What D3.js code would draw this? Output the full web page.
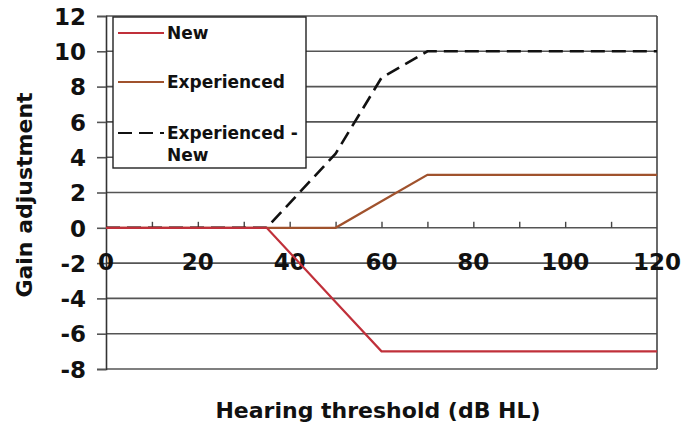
<!DOCTYPE html>
<html><head><meta charset="utf-8">
<script src="https://cdn.jsdelivr.net/npm/d3@7"></script>
<style>body{margin:0;background:#fff}svg{display:block}text{font-family:"DejaVu Sans",Verdana,sans-serif;font-weight:bold;fill:#111}</style>
</head><body><svg id="c" width="684" height="429"></svg>
<script>
const thresholds = [0, 35, 50, 60, 70, 120];
const newVals = [0, 0, -4.2, -7, -7, -7];
const expVals = [0, 0, 0, 1.5, 3, 3];
const diffVals = [0, 0, 4.2, 8.5, 10, 10];
const seriesNames = ["New", "Experienced", "Experienced - New"];
const xTicks = [0, 20, 40, 60, 80, 100, 120];
const xMinorTicks = [10, 20, 30, 40, 50, 60, 70, 80, 90, 100, 110];
const yTicks = [-8, -6, -4, -2, 0, 2, 4, 6, 8, 10, 12];

const svg = d3.select("#c");
const L = 106, R = 657, T = 16, B = 369;
const x = d3.scaleLinear().domain([0, 120]).range([L, R]);
const y = d3.scaleLinear().domain([-8, 12]).range([B, T]);
const fmt = d => String(d); // plain hyphen-minus like the original

// gridlines
svg.append("g").selectAll("line").data(yTicks).join("line")
  .attr("x1", L).attr("x2", R).attr("y1", d => y(d)).attr("y2", d => y(d))
  .attr("stroke", "#555").attr("stroke-width", 1.6);
// right border
svg.append("line").attr("x1", R).attr("x2", R).attr("y1", T).attr("y2", B).attr("stroke", "#444").attr("stroke-width", 1.6);

// y axis
const yAxis = d3.axisLeft(y).tickValues(yTicks).tickSize(9).tickPadding(11).tickFormat(fmt);
const gy = svg.append("g").attr("transform", `translate(${L},0)`).call(yAxis);
gy.select(".domain").attr("stroke", "#333").attr("stroke-width", 1.6);
gy.selectAll(".tick line").attr("stroke", "#555").attr("stroke-width", 1.6);
gy.selectAll(".tick text").style("font-size", "23px").style("fill", "#111").attr("dy", "0.36em");

// x axis on zero line with upward ticks
const xAxis = d3.axisTop(x).tickValues(xMinorTicks).tickSize(6).tickFormat("");
const gx = svg.append("g").attr("transform", `translate(0,${y(0)})`).call(xAxis);
gx.select(".domain").remove();
gx.selectAll(".tick line").attr("stroke", "#444").attr("stroke-width", 1.4);

// x tick labels (positioned like original, overlapping -2 line)
svg.append("g").selectAll("text").data(xTicks).join("text")
  .attr("x", d => x(d)).attr("y", y(0) + 42).attr("text-anchor", "middle")
  .style("font-size", "23px").text(fmt);

// lines
const line = d3.line().x((d, i) => x(thresholds[i])).y(d => y(d));
svg.append("path").datum(expVals).attr("d", line).attr("fill", "none").attr("stroke", "#a0522d").attr("stroke-width", 2.2);
svg.append("path").datum(diffVals).attr("d", line).attr("fill", "none").attr("stroke", "#111").attr("stroke-width", 2.6).attr("stroke-dasharray", "14,7");
svg.append("path").datum(newVals).attr("d", line).attr("fill", "none").attr("stroke", "#c0303a").attr("stroke-width", 2.2);

// legend
const lg = svg.append("g");
lg.append("rect").attr("x", 113).attr("y", 17).attr("width", 193).attr("height", 151)
  .attr("fill", "#fff").attr("stroke", "#222").attr("stroke-width", 1.4);
const legItems = [
  {name: seriesNames[0], color: "#c0303a", dash: null, y: 33},
  {name: seriesNames[1], color: "#a0522d", dash: null, y: 82},
  {name: seriesNames[2], color: "#111", dash: "14,7", y: 133}
];
legItems.forEach(it => {
  lg.append("line").attr("x1", 118).attr("x2", 164).attr("y1", it.y).attr("y2", it.y)
    .attr("stroke", it.color).attr("stroke-width", 2.2).attr("stroke-dasharray", it.dash);
});
lg.append("text").attr("x", 167).attr("y", 33).attr("dy", "0.36em").style("font-size", "17px").text("New");
lg.append("text").attr("x", 167).attr("y", 82).attr("dy", "0.36em").style("font-size", "17px").text("Experienced");
lg.append("text").attr("x", 167).attr("y", 133).attr("dy", "0.36em").style("font-size", "17px").text("Experienced -");
lg.append("text").attr("x", 167).attr("y", 155).attr("dy", "0.36em").style("font-size", "17px").text("New");

// axis titles
svg.append("text").attr("transform", "translate(32,195) rotate(-90)").attr("text-anchor", "middle")
  .style("font-size", "22px").text("Gain adjustment");
svg.append("text").attr("x", 378).attr("y", 418).attr("text-anchor", "middle")
  .style("font-size", "22px").text("Hearing threshold (dB HL)");
</script></body></html>
